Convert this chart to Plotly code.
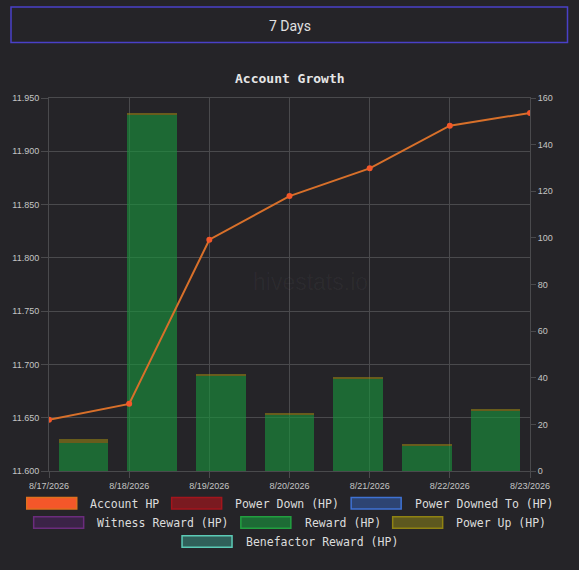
"""Account Growth chart (HP line + stacked daily bars) → out.html."""

import plotly.graph_objects as go

# ---- data -----------------------------------------------------------------
dates = ["8/17/2026", "8/18/2026", "8/19/2026", "8/20/2026",
         "8/21/2026", "8/22/2026", "8/23/2026"]
account_hp = [11648, 11663, 11817, 11858, 11884, 11924, 11936]
power_down_hp = [0, 0, 0, 0, 0, 0, 0]
power_downed_to_hp = [0, 0, 0, 0, 0, 0, 0]
witness_reward_hp = [0, 0, 0, 0, 0, 0, 0]
reward_hp = [11.9, 152.6, 40.7, 23.9, 39.4, 10.7, 25.8]
power_up_hp = [1.8, 0.8, 0.7, 0.9, 0.9, 0.9, 0.9]
benefactor_reward_hp = [0, 0, 0, 0, 0, 0, 0]

series_names = ["Account HP", "Power Down (HP)", "Power Downed To (HP)",
                "Witness Reward (HP)", "Reward (HP)", "Power Up (HP)",
                "Benefactor Reward (HP)"]

# ---- styling --------------------------------------------------------------
BG = "#252428"
GRID = "#4a4a4d"
TICK_FONT = dict(family="Liberation Sans, Arial", size=9, color="#c4c4c4")
MONO = "DejaVu Sans Mono, monospace"

legend_fill = ["#f4572a", "#7a1a20", "#2d4472", "#3b2347", "#1d6b35", "#5d581f", "#30605a"]
legend_border = ["#e0701e", "#a3151c", "#3f72d4", "#6b2c7d", "#22a040", "#8f8212", "#5ccab6"]
bar_colors = {
    "Power Down (HP)": "rgba(160,20,30,0.6)",
    "Power Downed To (HP)": "rgba(60,110,210,0.6)",
    "Witness Reward (HP)": "rgba(100,40,120,0.6)",
    "Reward (HP)": "rgba(25,148,60,0.62)",
    "Power Up (HP)": "rgba(150,130,20,0.6)",
    "Benefactor Reward (HP)": "rgba(80,200,180,0.6)",
}

W, H = 579, 570
L, R, T, B = 49, 530, 98, 471  # plot area in pixels


def px(x):
    return (x - L) / (R - L)


def py(y):
    return (B - y) / (B - T)


fig = go.Figure()

bar_series = [
    ("Power Down (HP)", power_down_hp),
    ("Power Downed To (HP)", power_downed_to_hp),
    ("Witness Reward (HP)", witness_reward_hp),
    ("Reward (HP)", reward_hp),
    ("Power Up (HP)", power_up_hp),
    ("Benefactor Reward (HP)", benefactor_reward_hp),
]
for name, vals in bar_series:
    fig.add_trace(go.Bar(
        x=dates, y=vals, name=name, width=0.72,
        marker=dict(color=bar_colors[name], line=dict(width=0)),
        xaxis="x", yaxis="y", showlegend=False,
    ))

fig.add_trace(go.Scatter(
    x=dates, y=account_hp, name="Account HP", mode="lines+markers",
    line=dict(color="#d8702a", width=2),
    marker=dict(color="#f4572a", size=6),
    xaxis="x2", yaxis="y2", showlegend=False,
))

# ---- hand drawn legend (wide boxes like the original) ----------------------
shapes = []
annotations = []
rows = [[0, 1, 2], [3, 4, 5], [6]]
row_y = [503.3, 522.5, 541.5]
char_w, box_w, box_h, gap_txt, gap_item = 6.92, 50, 11.5, 12.7, 13
for row, yc in zip(rows, row_y):
    widths = [box_w + gap_txt + len(series_names[i]) * char_w for i in row]
    x = W / 2 - (sum(widths) + gap_item * (len(row) - 1)) / 2
    for i, w in zip(row, widths):
        shapes.append(dict(
            type="rect", xref="paper", yref="paper",
            x0=px(x), x1=px(x + box_w), y0=py(yc + box_h / 2), y1=py(yc - box_h / 2),
            fillcolor=legend_fill[i], line=dict(color=legend_border[i], width=1.5),
        ))
        annotations.append(dict(
            text=series_names[i], xref="paper", yref="paper",
            x=px(x + box_w + gap_txt - 1), y=py(yc + 0.5), xanchor="left", yanchor="middle",
            showarrow=False, font=dict(family=MONO, size=11.5, color="#dcdcdc"),
        ))
        x += w + gap_item

# "7 Days" button
shapes.append(dict(
    type="rect", xref="paper", yref="paper",
    x0=px(11), x1=px(567.5), y0=py(42.5), y1=py(7),
    line=dict(color="#4a40c8", width=1.5), fillcolor=BG,
))
annotations.append(dict(
    text="7 Days", xref="paper", yref="paper", x=px(289.5), y=py(26),
    xanchor="center", yanchor="middle", showarrow=False,
    font=dict(family="Liberation Sans Narrow, Roboto", size=14, color="#e0e0e0"),
))

# chart title
annotations.append(dict(
    text="<b>Account Growth</b>", xref="paper", yref="paper", x=px(289.5), y=py(79),
    xanchor="center", yanchor="middle", showarrow=False,
    font=dict(family=MONO, size=13, color="#e6e6e6"),
))

# watermark
annotations.append(dict(
    text="hivestats.io", xref="paper", yref="paper", x=px(310), y=py(282),
    xanchor="center", yanchor="middle", showarrow=False,
    font=dict(family="Liberation Sans, Arial", size=23, color="rgba(255,255,255,0.035)"),
))

fig.update_layout(
    width=W, height=H,
    margin=dict(l=L, r=W - R, t=T, b=H - B, pad=0),
    paper_bgcolor=BG, plot_bgcolor=BG,
    barmode="stack", showlegend=False,
    separators=",.",
    shapes=shapes, annotations=annotations,
    xaxis=dict(type="category", range=[-0.5, 6.5], visible=False, fixedrange=True),
    yaxis=dict(side="right", range=[0, 160], dtick=20, showgrid=False,
               zeroline=False, ticks="outside", ticklen=5, tickcolor=GRID,
               tickfont=TICK_FONT, showline=False),
    xaxis2=dict(type="category", overlaying="x", range=[0, 6], showgrid=True,
                gridcolor=GRID, gridwidth=1, ticks="outside", ticklen=6,
                tickcolor=GRID, tickfont=TICK_FONT, tickangle=0,
                showline=True, linecolor=GRID, mirror=True),
    yaxis2=dict(overlaying="y", side="left", range=[11600, 11950], dtick=50,
                tickformat=",.0f", showgrid=True, gridcolor=GRID, gridwidth=1,
                zeroline=False, ticks="outside", ticklen=7, tickcolor=GRID,
                tickfont=TICK_FONT, showline=True, linecolor=GRID, mirror=True),
)

# the page's default 8px body margin would shift the chart; drop it
fig.write_html(
    "out.html",
    config={"displayModeBar": False},
    post_script="document.body.style.margin='0';"
                "document.body.style.background='" + BG + "';",
)
